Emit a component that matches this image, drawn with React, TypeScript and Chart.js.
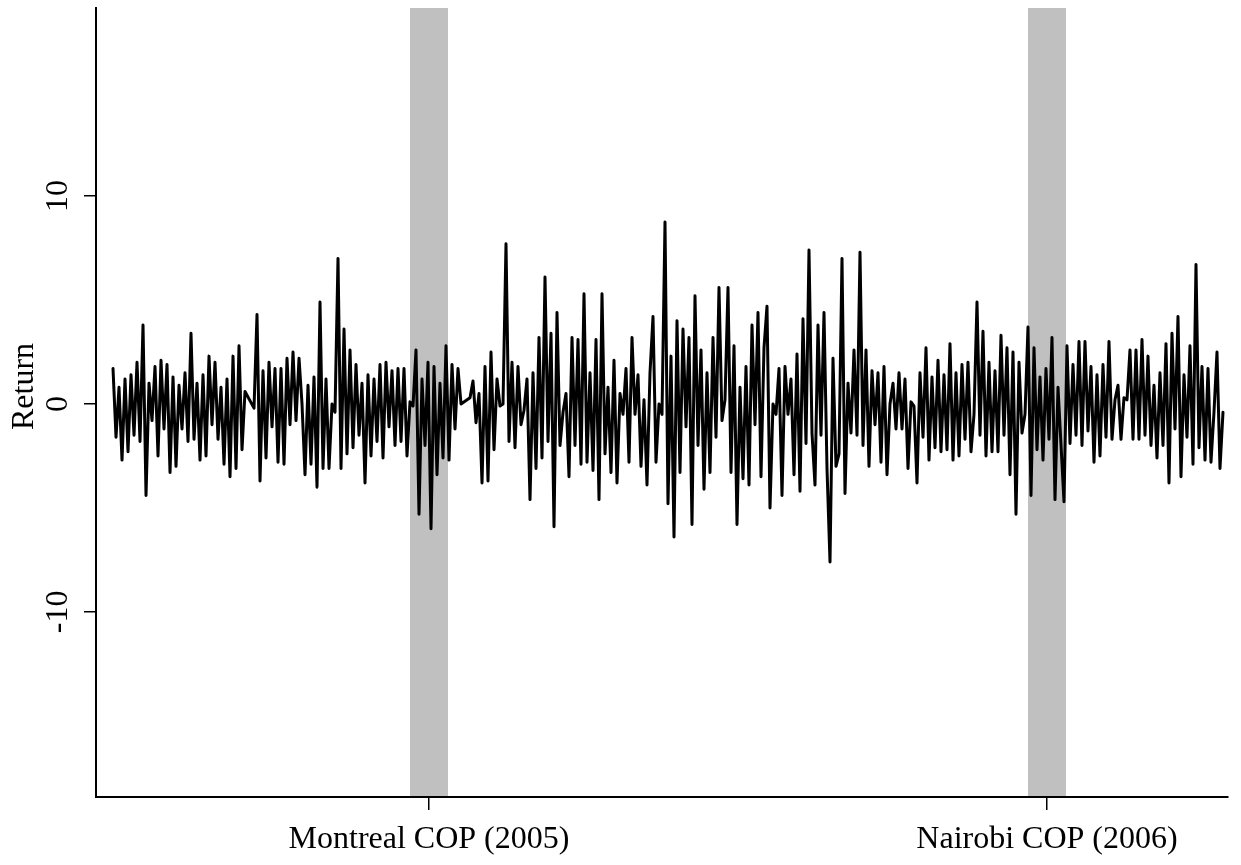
import React, { useEffect, useRef } from "react";
import { Chart, registerables } from "chart.js";

Chart.register(...registerables);

const FONT = "'Liberation Serif', 'Times New Roman', serif";

// Daily returns (%), one value per trading day; null = no trading (line bridges the gap)
const returnsEarly: (number | null)[] = [
  1.7, -1.6, 0.8, -2.7, 1.2, -2.3, 1.4, -1.5, 2.0, -1.8,
  3.8, -4.4, 1.0, -0.8, 1.8, -2.5, 2.1, -1.2, 1.9, -3.3,
  1.3, -3.0, 0.9, -1.2, 1.5, -1.8, 3.4, -1.7, 1.0, -2.7,
  1.4, -2.5, 2.3, -1.0, 2.0, -1.7, 0.8, -2.9, 1.2, -3.5,
  2.3, -3.1, 2.8, -2.2, 0.6, null, null, -0.2, 4.3, -3.7,
  1.6, -2.6, 2.0, -1.1, 1.7, -2.8, 1.7, -2.9, 2.2, -1.0,
  2.5, -0.8, 2.2, 0.0, -3.4, 0.9, -2.9, 1.3, -4.0, 4.9,
  -3.1, 1.2, -3.1, 0.0, -0.4, 7.0, -3.1, 3.6, -2.4, 2.6,
  -2.1, 1.9, -1.5, 1.0, -3.8, 1.4, -2.5, 1.2, -1.8, 1.9,
  -2.6, 2.0, -1.1, 1.6, -2.0, 1.7, -1.8, 1.7, -2.5, 0.1,
];
const returnsMontreal: (number | null)[] = [
  -0.1, 2.6, -5.3, 1.2, -2.0, 2.0, -6.0, 1.8, -3.4, 1.0,
  -2.6, 2.8, -2.7, 1.9, -1.2, 1.7, 0.0, null, null, 0.3,
];
const returnsMiddle: (number | null)[] = [
  1.1, -0.9, 0.5, -3.8, 1.8, -3.7, 2.5, -2.2, 1.2, -0.1,
  0.0, 7.7, -1.8, 2.0, -2.1, 1.8, -1.0, -0.3, 1.2, -4.6,
  1.5, -3.1, 3.2, -2.6, 6.1, -1.8, 3.4, -5.9, 4.4, -2.0,
  -0.4, 0.5, -3.5, 3.2, -2.0, 3.1, -2.9, 5.3, -2.8, 1.5,
  -3.2, 3.1, -4.6, 5.3, -2.4, 0.8, -3.3, 2.1, -3.8, 0.5,
  -0.5, 1.7, -2.8, 3.2, -0.5, 1.4, -3.0, 0.2, -3.9, 1.5,
  4.2, -2.8, 0.0, -0.5, 8.75, -4.8, 2.3, -6.4, 4.0, -3.3,
  3.6, -1.1, 3.2, -5.8, 5.2, -2.0, 2.6, -4.1, 1.5, -3.3,
  3.2, -1.6, 5.6, -0.8, 0.2, 5.6, -3.3, 2.8, -5.8, 0.8,
  -3.6, 1.8, -3.9, 3.8, -1.0, 4.4, -3.5, 2.7, 4.7, -5.0,
  0.0, -0.5, 1.7, -4.4, 1.8, -0.5, 1.2, -3.4, 2.4, -4.2,
  4.1, -1.9, 7.4, -1.4, -3.9, 3.8, -1.5, 4.4, -3.1, -7.6,
  2.2, -3.0, -2.4, 7.0, -4.3, 1.0, -1.4, 2.6, -1.5, 7.3,
  -2.0, 2.6, -3.0, 1.6, -1.0, 1.5, -2.8, 1.8, -3.4, 0.0,
  1.0, -1.2, 1.5, -1.2, 1.2, -3.1, 0.1, -0.1, -3.8, 1.5,
  -1.6, 2.7, -2.7, 1.3, -2.1, 2.1, -2.3, 1.4, -2.2, 2.9,
  -2.7, 1.5, -2.5, 1.9, -1.7, 2.0, -2.3, -0.5, 4.9, -1.5,
  3.5, -2.5, 2.0, -2.3, 1.6, -2.3, 3.3, -1.5, 2.7, -3.4,
  2.5, -5.3, 2.0, -1.4, -0.5, 3.7, -4.4, 2.7, -2.2, 1.3,
];
const returnsNairobi: (number | null)[] = [
  -2.7, 1.7, -1.7, 3.2, -4.6, 0.8, null, -4.7, 2.8, -1.9,
];
const returnsLate: (number | null)[] = [
  1.9, -1.5, 3.0, -2.0, 3.0, -1.3, 1.8, -2.8, 1.4, -2.5,
  1.9, -1.6, 3.0, -1.7, 0.2, 0.9, -1.7, 0.3, 0.2, 2.6,
  -1.7, 2.6, -1.7, 3.1, -1.5, 2.3, -2.0, 0.9, -2.6, 1.5,
  -2.0, 2.9, -3.8, 3.4, -1.2, 4.2, -3.5, 1.4, -1.6, 2.8,
  -2.9, 6.7, -2.1, 1.8, -2.7, 1.7, -2.8, -0.4, 2.5, -3.1,
  -0.4,
];

const returns = [
  ...returnsEarly,
  ...returnsMontreal,
  ...returnsMiddle,
  ...returnsNairobi,
  ...returnsLate,
];
const tradingDays = returns.map((_, i) => i);

const yTicks = [-10, 0, 10];
const copLabels = ["Montreal COP (2005)", "Nairobi COP (2006)"];
const copDays = [105.33, 311.33];
const copWindowHalf = 6.33;
const xRange = [-5.67, 371.67];
const yRange = [-18.9, 19.04];

export default function App() {
  const ref = useRef<HTMLCanvasElement>(null);

  useEffect(() => {
    const canvas = ref.current;
    if (!canvas) return;

    const overlay = {
      id: "copOverlay",
      beforeDraw(chart: any) {
        const { ctx, chartArea, scales } = chart;
        const x = scales.x;
        ctx.save();
        ctx.fillStyle = "#c0c0c0";
        copDays.forEach((d) => {
          const a = x.getPixelForValue(d - copWindowHalf);
          const b = x.getPixelForValue(d + copWindowHalf);
          ctx.fillRect(a, chartArea.top, b - a, chartArea.bottom - chartArea.top);
        });
        ctx.restore();
      },
      afterDraw(chart: any) {
        const { ctx, chartArea, scales } = chart;
        ctx.save();
        ctx.fillStyle = "#000";
        ctx.font = `32px ${FONT}`;
        ctx.textAlign = "center";
        ctx.textBaseline = "alphabetic";
        copDays.forEach((d, i) => {
          ctx.fillText(copLabels[i], scales.x.getPixelForValue(d), chartArea.bottom + 51);
        });
        yTicks.forEach((v) => {
          const py = scales.y.getPixelForValue(v);
          ctx.save();
          ctx.translate(chartArea.left - 29, py);
          ctx.rotate(-Math.PI / 2);
          ctx.fillText(String(v), 0, 0);
          ctx.restore();
        });
        ctx.save();
        ctx.translate(chartArea.left - 63, (chartArea.top + chartArea.bottom) / 2 - 16);
        ctx.rotate(-Math.PI / 2);
        ctx.fillText("Return", 0, 0);
        ctx.restore();
        ctx.restore();
      },
    };

    const chart = new Chart(canvas, {
      type: "line",
      data: {
        datasets: [
          {
            data: returns.map((v, i) => ({ x: tradingDays[i], y: v })) as any,
            borderColor: "#000",
            borderWidth: 3,
            borderJoinStyle: "round",
            borderCapStyle: "round",
            pointRadius: 0,
            spanGaps: true,
            tension: 0,
            fill: false,
          },
        ],
      },
      options: {
        animation: false,
        responsive: false,
        devicePixelRatio: 1,
        events: [],
        layout: { padding: { top: 8, right: 13, left: 0, bottom: 0 } },
        plugins: { legend: { display: false }, tooltip: { enabled: false } },
        scales: {
          x: {
            type: "linear",
            min: xRange[0],
            max: xRange[1],
            afterBuildTicks: (s: any) => {
              s.ticks = copDays.map((v) => ({ value: v }));
            },
            afterFit: (s: any) => {
              s.height = 68;
            },
            ticks: { display: false },
            grid: { drawOnChartArea: false, drawTicks: true, tickLength: 13, color: "#000", lineWidth: 1.5 },
            border: { display: true, color: "#000", width: 2 },
          },
          y: {
            type: "linear",
            min: yRange[0],
            max: yRange[1],
            afterBuildTicks: (s: any) => {
              s.ticks = yTicks.map((v) => ({ value: v }));
            },
            afterFit: (s: any) => {
              s.width = 96;
            },
            ticks: { display: false },
            grid: { drawOnChartArea: false, drawTicks: true, tickLength: 12, color: "#000", lineWidth: 1.5 },
            border: { display: true, color: "#000", width: 2 },
          },
        },
      } as any,
      plugins: [overlay],
    });

    return () => chart.destroy();
  }, []);

  return (
    <div style={{ position: "absolute", left: 0, top: 0, width: 1241, height: 865, background: "#fff" }}>
      <canvas ref={ref} width={1241} height={865} style={{ display: "block" }} />
    </div>
  );
}
